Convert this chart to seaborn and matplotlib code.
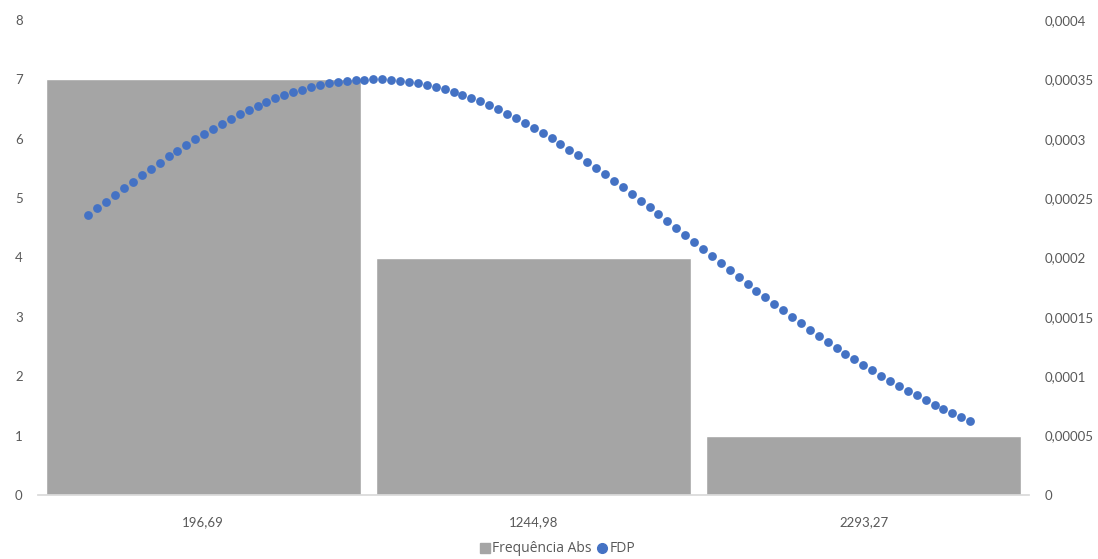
import matplotlib
matplotlib.use("Agg")
import matplotlib.pyplot as plt
import seaborn as sns
import pandas as pd
from matplotlib.lines import Line2D

# data
categorias = ['196,69', '1244,98', '2293,27']
freq_abs = [7, 4, 1]

# FDP (100 pontos)
fdp = [
    0.0002355, 0.0002413, 0.0002471, 0.0002528, 0.0002584, 0.0002640, 0.0002694, 0.0002748, 0.0002800, 0.0002851,
    0.0002901, 0.0002950, 0.0002997, 0.0003043, 0.0003086, 0.0003128, 0.0003169, 0.0003207, 0.0003243, 0.0003277,
    0.0003309, 0.0003339, 0.0003366, 0.0003391, 0.0003413, 0.0003433, 0.0003451, 0.0003466, 0.0003478, 0.0003487,
    0.0003494, 0.0003498, 0.0003500, 0.0003499, 0.0003495, 0.0003489, 0.0003479, 0.0003468, 0.0003453, 0.0003436,
    0.0003416, 0.0003394, 0.0003370, 0.0003343, 0.0003314, 0.0003282, 0.0003248, 0.0003212, 0.0003175, 0.0003135,
    0.0003093, 0.0003049, 0.0003004, 0.0002957, 0.0002909, 0.0002859, 0.0002808, 0.0002756, 0.0002702, 0.0002648,
    0.0002592, 0.0002536, 0.0002480, 0.0002422, 0.0002364, 0.0002306, 0.0002247, 0.0002189, 0.0002130, 0.0002071,
    0.0002012, 0.0001953, 0.0001895, 0.0001837, 0.0001779, 0.0001722, 0.0001666, 0.0001610, 0.0001554, 0.0001500,
    0.0001446, 0.0001393, 0.0001341, 0.0001290, 0.0001240, 0.0001191, 0.0001143, 0.0001096, 0.0001050, 0.0001005,
    0.0000962, 0.0000920, 0.0000879, 0.0000839, 0.0000800, 0.0000762, 0.0000726, 0.0000691, 0.0000657, 0.0000624,
]

ticks_esq = [0, 1, 2, 3, 4, 5, 6, 7, 8]
ticks_dir = [0, 0.00005, 0.0001, 0.00015, 0.0002, 0.00025, 0.0003, 0.00035, 0.0004]
labels_dir = ['0', '0,00005', '0,0001', '0,00015', '0,0002', '0,00025', '0,0003', '0,00035', '0,0004']

df_barras = pd.DataFrame({'classe': categorias, 'freq': freq_abs})
df_fdp = pd.DataFrame({'ponto': range(len(fdp)), 'fdp': fdp})

cinza = '#A5A5A5'
azul = '#4472C4'
texto = '#595959'

sns.set_theme(style="white")
plt.rcParams['font.family'] = ['Lato', 'DejaVu Sans']

fig = plt.figure(figsize=(10.98, 5.59), dpi=100)
ax = fig.add_axes([38 / 1098, 1 - 495 / 559, 991 / 1098, 475 / 559])

sns.barplot(data=df_barras, x='classe', y='freq', color=cinza, width=0.954,
            saturation=1, ax=ax, order=categorias)
ax.set_ylim(0, 8)
ax.set_yticks(ticks_esq)
ax.set_xlabel('')
ax.set_ylabel('')
for s in ['left', 'right', 'top']:
    ax.spines[s].set_visible(False)
ax.spines['bottom'].set_color('#D9D9D9')
ax.tick_params(axis='y', length=0, pad=11, labelsize=9.5, labelcolor=texto)
ax.tick_params(axis='x', length=0, pad=15, labelsize=9.5, labelcolor=texto)

# eixo secundario
ax2 = ax.twinx()
ax2.set_ylim(0, 0.0004)
ax2.set_yticks(ticks_dir)
ax2.set_yticklabels(labels_dir)
ax2.tick_params(axis='y', length=0, pad=11, labelsize=9.5, labelcolor=texto)
for s in ax2.spines.values():
    s.set_visible(False)

ax3 = ax2.twiny()
sns.scatterplot(data=df_fdp, x='ponto', y='fdp', color=azul, s=40, linewidth=0, ax=ax3)
ax3.set_xlim(-5.65, 105.6)
ax3.set_ylim(0, 0.0004)
ax3.set_xticks([])
ax3.set_xlabel('')
ax3.set_ylabel('')
for s in ax3.spines.values():
    s.set_visible(False)

handles = [
    Line2D([], [], marker='s', linestyle='', color=cinza, markersize=6.5),
    Line2D([], [], marker='o', linestyle='', color=azul, markersize=7),
]
leg = fig.legend(handles, ['Frequência Abs', 'FDP'], loc='center', bbox_to_anchor=(557 / 1098, 1 - 549 / 559),
                 ncol=2, frameon=False, fontsize=10, handletextpad=0.05, columnspacing=0.3,
                 handlelength=0.9, labelcolor=texto, prop={'family': 'Open Sans', 'size': 10})

plt.savefig('out.png', dpi=100)
